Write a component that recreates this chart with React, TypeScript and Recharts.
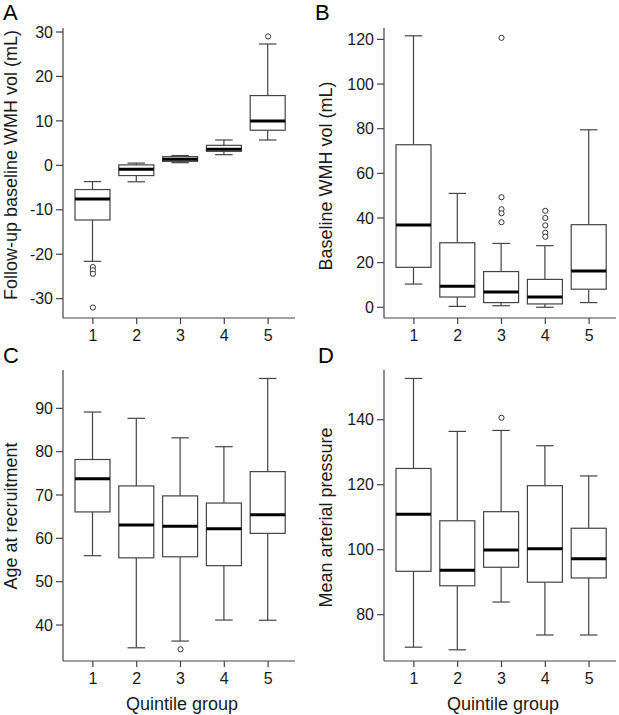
import React from "react";
import { ComposedChart, Bar, Scatter, XAxis, YAxis, Label } from "recharts";

const groups = ["1", "2", "3", "4", "5"];

// A: follow-up minus baseline WMH volume
const lowA = [-21.6, -3.7, 0.6, 2.4, 5.7];
const q1A = [-12.3, -2.3, 0.9, 3.15, 7.9];
const medianA = [-7.6, -0.9, 1.35, 3.6, 10.0];
const q3A = [-5.45, 0.1, 1.95, 4.5, 15.7];
const highA = [-3.65, 0.5, 2.2, 5.7, 27.3];
const outliersA: [number, number][] = [[0, -22.9], [0, -23.6], [0, -24.4], [0, -32.0], [4, 29.0]];
const ticksA = [-30, -20, -10, 0, 10, 20, 30];

// B: baseline WMH volume
const lowB = [10.4, 0.4, 0.7, 0, 2.1];
const q1B = [17.9, 4.6, 2.1, 1.5, 8.1];
const medianB = [36.9, 9.4, 6.9, 4.6, 16.3];
const q3B = [72.8, 28.9, 16.0, 12.5, 37.0];
const highB = [121.6, 51.0, 28.6, 27.6, 79.5];
const outliersB: [number, number][] = [
  [2, 120.7], [2, 49.3], [2, 43.9], [2, 42.1], [2, 38.1],
  [3, 43.2], [3, 40.0], [3, 36.7], [3, 33.4], [3, 31.6],
];
const ticksB = [0, 20, 40, 60, 80, 100, 120];

// C: age at recruitment
const lowC = [56.0, 34.75, 36.3, 41.15, 41.1];
const q1C = [66.1, 55.5, 55.75, 53.7, 61.15];
const medianC = [73.75, 63.1, 62.8, 62.2, 65.45];
const q3C = [78.2, 72.1, 69.8, 68.15, 75.4];
const highC = [89.15, 87.7, 83.2, 81.15, 96.9];
const outliersC: [number, number][] = [[2, 34.4]];
const ticksC = [40, 50, 60, 70, 80, 90];

// D: mean arterial pressure
const lowD = [70.0, 69.2, 83.9, 73.75, 73.75];
const q1D = [93.35, 88.9, 94.6, 90.0, 91.3];
const medianD = [110.9, 93.65, 99.9, 100.3, 97.2];
const q3D = [125.0, 108.9, 111.7, 119.7, 106.6];
const highD = [152.7, 136.4, 136.7, 132.0, 122.7];
const outliersD: [number, number][] = [[2, 140.6]];
const ticksD = [80, 100, 120, 140];

const font = '"Liberation Sans", Arial, Helvetica, sans-serif';
const lineColor = "#444";
const textColor = "#1a1a1a";

function BoxShape(props: any) {
  const { x, y, width, height, payload } = props;
  const top = Math.min(y, y + height);
  const bottom = Math.max(y, y + height);
  const span = payload.high - payload.low;
  const py = (v: number) => top + ((payload.high - v) / span) * (bottom - top);
  const cx = x + width / 2;
  const cap = width / 4;
  return (
    <g>
      <line x1={cx} x2={cx} y1={py(payload.high)} y2={py(payload.q3)} stroke={lineColor} strokeWidth={1.2} />
      <line x1={cx} x2={cx} y1={py(payload.q1)} y2={py(payload.low)} stroke={lineColor} strokeWidth={1.2} />
      <line x1={cx - cap} x2={cx + cap} y1={py(payload.high)} y2={py(payload.high)} stroke={lineColor} strokeWidth={1.2} />
      <line x1={cx - cap} x2={cx + cap} y1={py(payload.low)} y2={py(payload.low)} stroke={lineColor} strokeWidth={1.2} />
      <rect
        x={x}
        y={py(payload.q3)}
        width={width}
        height={py(payload.q1) - py(payload.q3)}
        fill="#fff"
        stroke={lineColor}
        strokeWidth={1.2}
      />
      <line x1={x} x2={x + width} y1={py(payload.median)} y2={py(payload.median)} stroke="#000" strokeWidth={3} />
    </g>
  );
}

function OutlierShape(props: any) {
  if (props.cx == null || props.cy == null) return null;
  return <circle cx={props.cx} cy={props.cy} r={2.6} fill="#fff" stroke="#333" strokeWidth={1} />;
}

interface PanelProps {
  title: string;
  low: number[];
  q1: number[];
  median: number[];
  q3: number[];
  high: number[];
  outliers: [number, number][];
  ticks: number[];
  domain: [number, number];
  left: number;
  top: number;
  width: number;
  height: number;
  marginTop: number;
  marginRight: number;
  yAxisWidth: number;
  xAxisHeight: number;
  titleX: number;
  titleDy: number;
  showXTitle: boolean;
}

function BoxPanel(p: PanelProps) {
  const data = groups.map((g, i) => ({
    group: g,
    range: [p.low[i], p.high[i]],
    low: p.low[i],
    q1: p.q1[i],
    median: p.median[i],
    q3: p.q3[i],
    high: p.high[i],
  }));
  const outlierData = p.outliers.map(([gi, v]) => ({ group: groups[gi], v }));
  const tickStyle = { fill: textColor, fontSize: 16, fontFamily: font };

  return (
    <div style={{ position: "absolute", left: p.left, top: p.top }}>
      <ComposedChart
        width={p.width}
        height={p.height}
        data={data}
        margin={{ top: p.marginTop, right: p.marginRight, bottom: 0, left: 0 }}
      >
        <XAxis
          dataKey="group"
          type="category"
          allowDuplicatedCategory={false}
          interval={0}
          padding={{ left: 8, right: 5 }}
          height={p.xAxisHeight}
          tickSize={6}
          tickMargin={6}
          axisLine={{ stroke: lineColor, strokeWidth: 1.2 }}
          tickLine={{ stroke: lineColor, strokeWidth: 1.2 }}
          tick={tickStyle}
        >
          {p.showXTitle && (
            <Label
              content={(lp: any) => {
                const vb = lp.viewBox || {};
                return (
                  <text
                    x={vb.x + vb.width / 2 + 3}
                    y={vb.y + 49}
                    textAnchor="middle"
                    fontSize={18}
                    fontFamily={font}
                    fill={textColor}
                  >
                    Quintile group
                  </text>
                );
              }}
            />
          )}
        </XAxis>
        <YAxis
          type="number"
          domain={p.domain}
          ticks={p.ticks}
          allowDataOverflow
          interval={0}
          width={p.yAxisWidth}
          tickSize={7}
          tickMargin={3}
          axisLine={{ stroke: lineColor, strokeWidth: 1.2 }}
          tickLine={{ stroke: lineColor, strokeWidth: 1.2 }}
          tick={tickStyle}
        >
          <Label
            content={(lp: any) => {
              const vb = lp.viewBox || {};
              const tx = vb.x + p.titleX;
              const ty = vb.y + vb.height / 2 + p.titleDy;
              return (
                <text
                  x={tx}
                  y={ty}
                  transform={`rotate(-90, ${tx}, ${ty})`}
                  textAnchor="middle"
                  dominantBaseline="central"
                  fontSize={18}
                  fontFamily={font}
                  fill={textColor}
                >
                  {p.title}
                </text>
              );
            }}
          />
        </YAxis>
        <Bar dataKey="range" barSize={35} isAnimationActive={false} shape={BoxShape} />
        <Scatter data={outlierData} dataKey="v" isAnimationActive={false} shape={OutlierShape} />
      </ComposedChart>
    </div>
  );
}

export default function App() {
  const letterStyle = { fontSize: 22, fontFamily: font, fill: "#000" };
  return (
    <div style={{ position: "absolute", left: 0, top: 0, width: 619, height: 715, background: "#fff" }}>
      <BoxPanel
        title="Follow-up baseline WMH vol (mL)"
        low={lowA}
        q1={q1A}
        median={medianA}
        q3={q3A}
        high={highA}
        outliers={outliersA}
        ticks={ticksA}
        domain={[-34.35, 30.9]}
        left={0}
        top={0}
        width={300}
        height={350}
        marginTop={28}
        marginRight={5}
        yAxisWidth={63}
        xAxisHeight={32}
        titleX={10.5}
        titleDy={-8}
        showXTitle={false}
      />
      <BoxPanel
        title="Baseline WMH vol (mL)"
        low={lowB}
        q1={q1B}
        median={medianB}
        q3={q3B}
        high={highB}
        outliers={outliersB}
        ticks={ticksB}
        domain={[-4.8, 125.1]}
        left={305}
        top={0}
        width={314}
        height={350}
        marginTop={28}
        marginRight={3}
        yAxisWidth={79}
        xAxisHeight={32}
        titleX={20.8}
        titleDy={3}
        showXTitle={false}
      />
      <BoxPanel
        title="Age at recruitment"
        low={lowC}
        q1={q1C}
        median={medianC}
        q3={q3C}
        high={highC}
        outliers={outliersC}
        ticks={ticksC}
        domain={[31.7, 98.85]}
        left={0}
        top={330}
        width={300}
        height={385}
        marginTop={40}
        marginRight={5}
        yAxisWidth={63}
        xAxisHeight={54}
        titleX={10.5}
        titleDy={0.5}
        showXTitle={true}
      />
      <BoxPanel
        title="Mean arterial pressure"
        low={lowD}
        q1={q1D}
        median={medianD}
        q3={q3D}
        high={highD}
        outliers={outliersD}
        ticks={ticksD}
        domain={[65.75, 155.3]}
        left={305}
        top={330}
        width={314}
        height={385}
        marginTop={40}
        marginRight={3}
        yAxisWidth={79}
        xAxisHeight={54}
        titleX={20.8}
        titleDy={2}
        showXTitle={true}
      />
      <svg width={619} height={715} style={{ position: "absolute", left: 0, top: 0, pointerEvents: "none" }}>
        <text x={3} y={20} {...letterStyle}>A</text>
        <text x={315} y={19.5} {...letterStyle}>B</text>
        <text x={3} y={363} {...letterStyle}>C</text>
        <text x={318} y={363} {...letterStyle}>D</text>
      </svg>
    </div>
  );
}
